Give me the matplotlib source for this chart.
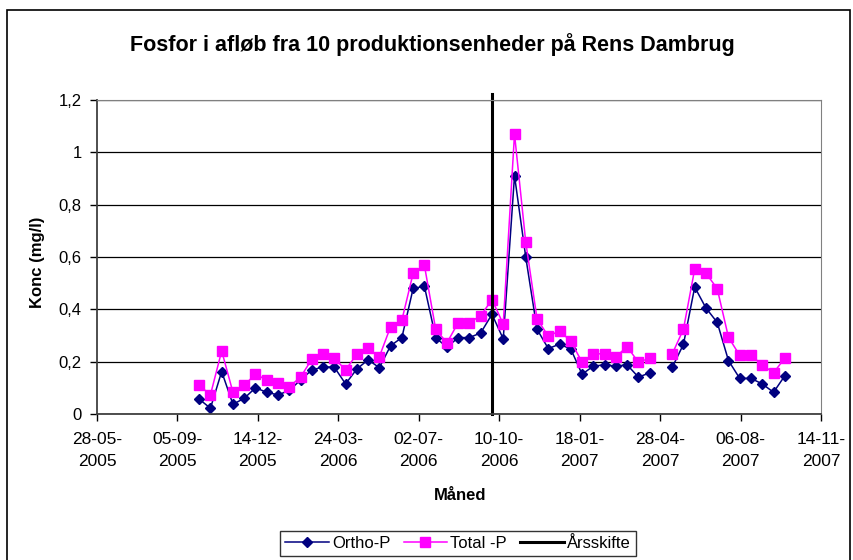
import matplotlib as mpl
import matplotlib.pyplot as plt
import matplotlib.ticker as mticker
from matplotlib.patches import Rectangle
import numpy as np
import pandas as pd

# sampling dates (every 14 days), one missing sample on 2007-04-29
dates = [
  '2005-10-02', '2005-10-16', '2005-10-30', '2005-11-13', '2005-11-27', '2005-12-11', '2005-12-25',
  '2006-01-08', '2006-01-22', '2006-02-05', '2006-02-19', '2006-03-05', '2006-03-19', '2006-04-02',
  '2006-04-16', '2006-04-30', '2006-05-14', '2006-05-28', '2006-06-11', '2006-06-25', '2006-07-09',
  '2006-07-23', '2006-08-06', '2006-08-20', '2006-09-03', '2006-09-17', '2006-10-01', '2006-10-15',
  '2006-10-29', '2006-11-12', '2006-11-26', '2006-12-10', '2006-12-24', '2007-01-07', '2007-01-21',
  '2007-02-04', '2007-02-18', '2007-03-04', '2007-03-18', '2007-04-01', '2007-04-15', '2007-04-29',
  '2007-05-13', '2007-05-27', '2007-06-10', '2007-06-24', '2007-07-08', '2007-07-22', '2007-08-05',
  '2007-08-19', '2007-09-02', '2007-09-16', '2007-09-30'
]

ortho_p = [
  0.057, 0.022, 0.162, 0.037, 0.060, 0.100, 0.083, 0.073, 0.090, 0.130, 0.168, 0.180, 0.179,
  0.115, 0.172, 0.207, 0.177, 0.261, 0.292, 0.480, 0.488, 0.292, 0.255, 0.292, 0.292, 0.310,
  0.381, 0.287, 0.911, 0.599, 0.324, 0.250, 0.267, 0.248, 0.152, 0.183, 0.188, 0.183, 0.188,
  0.141, 0.157, None, 0.178, 0.266, 0.485, 0.405, 0.350, 0.204, 0.136, 0.136, 0.115, 0.083, 0.146
]

total_p = [
  0.110, 0.073, 0.241, 0.083, 0.110, 0.152, 0.130, 0.120, 0.104, 0.141, 0.209, 0.230, 0.214,
  0.168, 0.229, 0.251, 0.219, 0.334, 0.359, 0.538, 0.568, 0.324, 0.272, 0.349, 0.349, 0.376,
  0.437, 0.344, 1.070, 0.656, 0.364, 0.297, 0.318, 0.278, 0.198, 0.230, 0.230, 0.219, 0.257,
  0.198, 0.213, None, 0.229, 0.324, 0.554, 0.538, 0.479, 0.293, 0.224, 0.224, 0.188, 0.157, 0.214
]

aarsskifte = '2006-10-01'
x_start = '2005-05-28'
x_end = '2007-11-14'

x = pd.to_datetime( dates )
ortho = np.array( [ np.nan if v is None else v for v in ortho_p ], dtype=float )
total = np.array( [ np.nan if v is None else v for v in total_p ], dtype=float )

mpl.rcParams.update({
  'font.family': [ 'Liberation Sans', 'DejaVu Sans' ],
  'font.size': 12
})

fig = plt.figure( figsize=( 8.54, 5.6 ), dpi=100 )
ax = fig.add_axes( [ 97 / 854, 1 - 414 / 560, 724 / 854, 314 / 560 ] )

# outer chart frame
fig.patches.append( Rectangle( ( 7.5 / 854, -0.02 ), 843 / 854, 1 - 10 / 560 + 0.02,
                               transform=fig.transFigure, fill=False, edgecolor='black', lw=1.2 ) )

ax.plot( x, ortho, color='#000080', lw=1.1, marker='D', ms=5.5, label='Ortho-P' )
ax.plot( x, total, color='#FF00FF', lw=1.1, marker='s', ms=6.5, label='Total -P' )
ax.axvline( pd.Timestamp( aarsskifte ), ymin=0, ymax=1.02, color='black', lw=2.2,
            label='Årsskifte', clip_on=False )

ax.set_xlim( pd.Timestamp( x_start ), pd.Timestamp( x_end ) )
ax.set_ylim( 0, 1.2 )
ticks = pd.date_range( x_start, x_end, freq='100D' )
ax.set_xticks( ticks )
ax.set_xticklabels( [ t.strftime( '%d-%m-\n%Y' ) for t in ticks ], linespacing=1.6, fontsize=12.5 )
ax.yaxis.set_major_locator( mticker.MultipleLocator( 0.2 ) )
ax.yaxis.set_major_formatter( mticker.FuncFormatter(
  lambda v, p: ( '%g' % round( v, 1 ) ).replace( '.', ',' ) ) )

ax.tick_params( axis='both', direction='out', length=5, width=1, colors='black' )
ax.tick_params( axis='y', pad=6, labelsize=12 )
ax.tick_params( axis='x', pad=8 )
ax.grid( axis='y', color='black', lw=0.9 )
ax.set_axisbelow( True )
for s in [ 'top', 'right' ]:
  ax.spines[ s ].set_color( '#808080' )
for s in [ 'left', 'bottom' ]:
  ax.spines[ s ].set_color( '#404040' )
  ax.spines[ s ].set_linewidth( 1.3 )

fig.text( 432 / 854, 1 - 45 / 560, 'Fosfor i afløb fra 10 produktionsenheder på Rens Dambrug',
          ha='center', va='center', fontsize=15.5, fontweight='bold' )
fig.text( 460 / 854, 1 - 495 / 560, 'Måned', ha='center', va='center', fontsize=12, fontweight='bold' )
fig.text( 38 / 854, 1 - 262 / 560, 'Konc (mg/l)', ha='center', va='center', rotation=90,
          fontsize=12, fontweight='bold' )

leg = fig.legend( loc='center', bbox_to_anchor=( 458 / 854, 1 - 543 / 560 ), ncol=3,
                  frameon=True, fancybox=False, edgecolor='black', fontsize=12,
                  handlelength=2.6, handletextpad=0.2, columnspacing=0.8,
                  borderpad=0.3, borderaxespad=0 )
leg.get_frame().set_linewidth( 1.0 )

fig.savefig( 'out.png', dpi=100 )
